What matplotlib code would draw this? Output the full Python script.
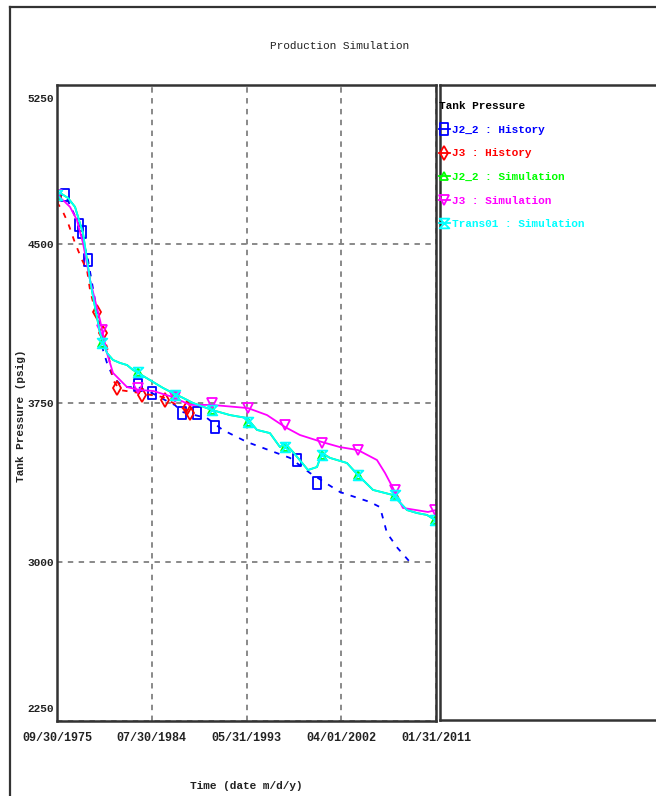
import matplotlib
matplotlib.use("Agg")
import matplotlib.pyplot as plt
import matplotlib.transforms as mtrans
from matplotlib.lines import Line2D
from matplotlib.path import Path

plt.rcParams['font.family'] = ['Liberation Mono', 'DejaVu Sans Mono']

# ---------------- data (decimal years, psig) ----------------
xtick_pos = [1975.75, 1984.583, 1993.417, 2002.25, 2011.083]
xtick_labels = ["09/30/1975", "07/30/1984", "05/31/1993", "04/01/2002", "01/31/2011"]
ytick_pos = [2250, 3000, 3750, 4500, 5250]

# J2_2 : History (dashed line + markers)
j22_hist_t = [1975.75, 1976.5, 1976.96, 1977.8, 1978.64, 1979.29, 1979.76, 1980.04, 1980.41,
              1980.97, 1981.9, 1983.3, 1984.6, 1985.82, 1986.75, 1987.4, 1988.6, 1989.73,
              1991.2, 1993.46, 1997.47, 1999.33, 2002.13, 2004.93, 2005.86, 2006.51, 2007.5, 2008.65]
j22_hist_p = [4731, 4731, 4684, 4590, 4425, 4236, 4118, 4000, 3939,
              3873, 3825, 3825, 3797, 3764, 3740, 3708, 3693, 3679,
              3623, 3566, 3491, 3420, 3330, 3283, 3259, 3137, 3066, 3000]
j22_obs_t = [1976.5, 1977.8, 1978.08, 1978.64, 1983.3, 1984.6, 1987.4, 1988.8, 1990.48, 1998.1, 1999.99]
j22_obs_p = [4731, 4590, 4557, 4425, 3835, 3797, 3703, 3703, 3637, 3481, 3373]

# J3 : History
j3_hist_t = [1975.75, 1976.31, 1976.78, 1977.43, 1978.08, 1978.55, 1978.83, 1979.29, 1979.76,
             1980.41, 1980.97, 1981.62, 1983.49, 1985.63, 1987.22, 1988.43]
j3_hist_p = [4698, 4651, 4599, 4505, 4425, 4377, 4283, 4189, 4108,
             4014, 3858, 3811, 3797, 3778, 3731, 3703]
j3_obs_t = [1975.75, 1979.48, 1980.04, 1981.34, 1983.67, 1985.82, 1987.87, 1988.15]
j3_obs_p = [4722, 4179, 4080, 3821, 3788, 3764, 3726, 3703]

# Trans01 : Simulation
tr_sim_t = [1975.75, 1976.03, 1976.78, 1977.43, 1978.17, 1978.83, 1979.29, 1979.76, 1980.41,
            1980.97, 1981.62, 1982.28, 1982.83, 1983.3, 1984.42, 1985.63, 1986.56, 1987.5,
            1988.43, 1990.2, 1991.88, 1993.46, 1994.39, 1995.6, 1996.54, 1997.0, 1997.75,
            1999.15, 1999.99, 2000.45, 2001.2, 2002.78, 2003.81, 2005.21, 2007.07, 2008.38,
            2009.31, 2010.24, 2011.0]
tr_sim_p = [4741, 4741, 4717, 4675, 4552, 4330, 4203, 4080, 3986,
            3953, 3939, 3929, 3906, 3892, 3858, 3821, 3797, 3774,
            3750, 3717, 3693, 3679, 3623, 3608, 3542, 3561, 3519,
            3434, 3448, 3514, 3491, 3467, 3410, 3340, 3316, 3245,
            3231, 3222, 3198]
tr_mk_t = [1975.75, 1979.94, 1983.3, 1986.75, 1990.2, 1993.55, 1997.0, 2000.45, 2003.81, 2007.26, 2011.0]
tr_mk_p = [4731, 4033, 3896, 3788, 3717, 3660, 3542, 3505, 3410, 3316, 3198]

# J2_2 : Simulation (almost identical to Trans01, drawn beneath it)
j22_sim_t = tr_sim_t
j22_sim_p = tr_sim_p
j22_mk_t = tr_mk_t
j22_mk_p = tr_mk_p

# J3 : Simulation
j3_sim_t = [1975.75, 1976.5, 1976.96, 1977.61, 1978.17, 1978.83, 1979.76, 1980.41, 1980.97,
            1982.28, 1983.49, 1984.7, 1986.56, 1988.15, 1990.2, 1993.55, 1995.33, 1997.0,
            1998.4, 2000.45, 2002.13, 2003.81, 2005.58, 2006.33, 2007.07, 2008.0, 2010.33, 2011.08]
j3_sim_p = [4731, 4698, 4675, 4613, 4505, 4330, 4141, 3986, 3892,
            3825, 3811, 3807, 3778, 3741, 3741, 3726, 3693, 3637,
            3599, 3566, 3542, 3528, 3481, 3420, 3349, 3255, 3236, 3245]
j3_mk_t = [1975.75, 1979.94, 1983.3, 1986.75, 1990.2, 1993.55, 1997.0, 2000.45, 2003.81, 2007.26, 2011.0]
j3_mk_p = [4731, 4094, 3821, 3778, 3750, 3726, 3646, 3561, 3528, 3340, 3245]

labels = ["J2_2 : History", "J3 : History", "J2_2 : Simulation", "J3 : Simulation", "Trans01 : Simulation"]
colors = ["#0000ff", "#ff0000", "#00ff00", "#ff00ff", "#00ffff"]

# ---------------- markers ----------------
rect_marker = Path([(-0.6, -1), (0.6, -1), (0.6, 1), (-0.6, 1), (-0.6, -1)],
                   [Path.MOVETO, Path.LINETO, Path.LINETO, Path.LINETO, Path.CLOSEPOLY])
hourglass = Path([(-1, 1), (1, 1), (-1, -1), (1, -1), (-1, 1)],
                 [Path.MOVETO, Path.LINETO, Path.LINETO, Path.LINETO, Path.CLOSEPOLY])

W, H = 656, 796
fig = plt.figure(figsize=(W / 100, H / 100), dpi=100)

def fx(px):
    return px / W

def fy(py):
    return 1 - py / H

# outer frame
fig.add_artist(Line2D([fx(10), fx(10)], [fy(7), fy(800)], color="#333333", lw=1.6))
fig.add_artist(Line2D([fx(10), fx(660)], [fy(7), fy(7)], color="#333333", lw=1.6))

fig.text(fx(340), fy(46), "Production Simulation", ha="center", va="center", fontsize=8, color="#222222")

ax = fig.add_axes([fx(57), fy(721), (436 - 57) / W, (721 - 85) / H])
ax.set_xlim(xtick_pos[0], xtick_pos[-1])
ax.set_ylim(2250, 5250)
ax.set_xticks(xtick_pos)
ax.set_xticklabels(xtick_labels)
ax.set_yticks(ytick_pos)
ax.set_yticklabels([str(v) for v in ytick_pos])
ax.tick_params(length=0, labelsize=8, colors="#222222")
ax.tick_params(axis="x", pad=8)
ax.tick_params(axis="y", pad=2)
for lab in ax.get_xticklabels():
    lab.set_fontweight("bold")
    lab.set_fontsize(8.5)
for lab in ax.get_yticklabels():
    lab.set_fontweight("bold")
    lab.set_fontsize(8)
ylabs = ax.get_yticklabels()
ylabs[0].set_transform(ylabs[0].get_transform() + mtrans.ScaledTranslation(0, 13 / 100, fig.dpi_scale_trans))
ylabs[-1].set_transform(ylabs[-1].get_transform() + mtrans.ScaledTranslation(0, -13 / 100, fig.dpi_scale_trans))
ax.grid(True, linestyle=(0, (3, 3)), color="#808080", linewidth=1.3)
for s in ax.spines.values():
    s.set_linewidth(1.8)
    s.set_color("#333333")

lw = 1.3
mew = 1.3
ax.plot(j22_hist_t, j22_hist_p, color=colors[0], lw=lw, ls=(0, (3, 4)))
ax.plot(j22_obs_t, j22_obs_p, ls="none", marker=rect_marker, ms=9, mfc="none", mec=colors[0], mew=mew)
ax.plot(j3_hist_t, j3_hist_p, color=colors[1], lw=lw, ls=(0, (3, 4)))
ax.plot(j3_obs_t, j3_obs_p, ls="none", marker="d", ms=7, mfc="none", mec=colors[1], mew=mew)
ax.plot(j22_sim_t, j22_sim_p, color=colors[2], lw=lw)
ax.plot(j22_mk_t, j22_mk_p, ls="none", marker="^", ms=6, mfc="none", mec=colors[2], mew=mew)
ax.plot(j3_sim_t, j3_sim_p, color=colors[3], lw=lw)
ax.plot(j3_mk_t, j3_mk_p, ls="none", marker="v", ms=7, mfc="none", mec=colors[3], mew=mew)
ax.plot(tr_sim_t, tr_sim_p, color=colors[4], lw=lw)
ax.plot(tr_mk_t, tr_mk_p, ls="none", marker=hourglass, ms=7, mfc="none", mec=colors[4], mew=mew)

fig.text(fx(21), fy(416), "Tank Pressure (psig)", rotation=90, ha="center", va="center",
         fontsize=8, fontweight="bold", color="#222222")
fig.text(fx(246), fy(786), "Time (date m/d/y)", ha="center", va="center", fontsize=8,
         fontweight="bold", color="#222222")

# legend panel
lax = fig.add_axes([fx(440), fy(720), (670 - 440) / W, (720 - 85) / H])
lax.set_xticks([])
lax.set_yticks([])
for s in lax.spines.values():
    s.set_linewidth(1.8)
    s.set_color("#333333")

handles = [
    Line2D([], [], color=colors[0], lw=lw, marker=rect_marker, ms=9, mfc="none", mew=mew),
    Line2D([], [], color=colors[1], lw=lw, marker="d", ms=7, mfc="none", mew=mew),
    Line2D([], [], color=colors[2], lw=lw, marker="^", ms=6, mfc="none", mew=mew),
    Line2D([], [], color=colors[3], lw=lw, marker="v", ms=7, mfc="none", mew=mew),
    Line2D([], [], color=colors[4], lw=lw, marker=hourglass, ms=7, mfc="none", mew=mew),
]
leg = lax.legend(handles, labels, loc="upper left", bbox_to_anchor=(-0.005, 1 - 16 / 635),
                 frameon=False, fontsize=8, title="Tank Pressure", title_fontsize=8,
                 handlelength=1.0, handletextpad=0.15, labelspacing=1.22, borderaxespad=0,
                 borderpad=0, markerfirst=True, labelcolor=colors, numpoints=1)
leg._legend_box.align = "left"
leg._legend_box.sep = 10
leg.get_title().set_fontweight("bold")
for t in leg.get_texts():
    t.set_fontweight("bold")

fig.savefig("out.png", dpi=100)
